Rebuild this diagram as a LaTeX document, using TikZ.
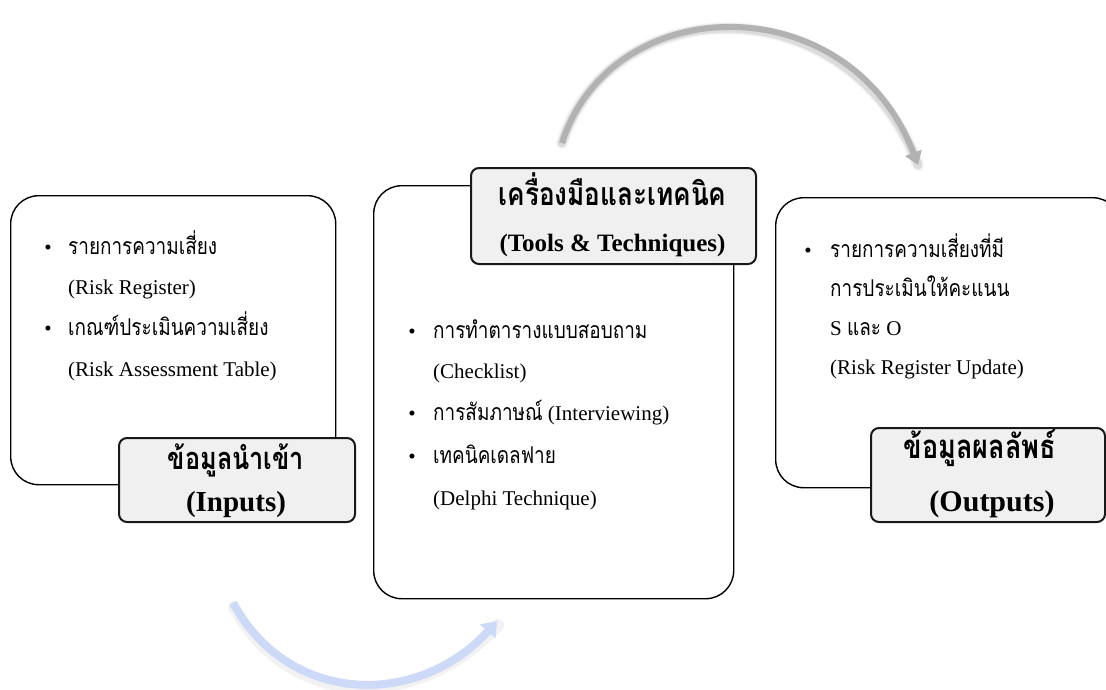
\documentclass[tikz,border=0pt]{standalone}
\usepackage{fontspec}
\setmainfont{Liberation Serif}
\newfontfamily\thai[Script=Thai,Scale=1.1,FakeStretch=0.82]{Loma}
\usetikzlibrary{arrows.meta}
\definecolor{tagfill}{RGB}{240,240,240}
\definecolor{arcgray}{RGB}{178,178,178}
\definecolor{arcblue}{RGB}{204,217,247}
\tikzset{
  panel/.style={draw=black, line width=1.4, rounded corners=28, fill=white, anchor=north west, inner sep=0pt},
  tag/.style={draw=black!90, line width=2, rounded corners=8, fill=tagfill, anchor=north west, inner sep=0pt},
  item/.style={anchor=base west, inner sep=0pt, font=\fontsize{21}{25}\selectfont},
  dot/.style={anchor=base, inner sep=0pt, font=\fontsize{21}{25}\selectfont},
  tagline/.style={anchor=base, inner sep=0pt, font=\bfseries\fontsize{#1}{#1}\selectfont},
}
\begin{document}
\begin{tikzpicture}[x=1pt,y=-1pt]
\useasboundingbox (0,0) rectangle (1106,689);

% ---- curved flow arrows ----
\coordinate (ga) at (562,143);
\coordinate (gb) at (918,165);
\foreach \w/\o in {13/0.08, 10.5/0.16, 8.5/0.3}
  \draw[line width=\w, draw=arcgray, opacity=\o, line cap=round]
    (ga) .. controls (612,-12) and (850,-15) .. (gb);
\draw[line width=6, draw=arcgray, -{Triangle[length=13,width=17]}]
    (ga) .. controls (612,-12) and (850,-15) .. (gb);

\coordinate (ba) at (233,603);
\coordinate (bb) at (497,621);
\draw[line width=12, draw=black, opacity=0.05, line cap=round]
    ([shift={(1,4)}]ba) .. controls (290,711) and (420,711) .. ([shift={(1,4)}]bb);
\draw[line width=8, draw=arcblue, -{Triangle[length=14,width=20]}]
    (ba) .. controls (290,707) and (420,707) .. (bb);

% ---- Inputs ----
\node[panel, minimum width=325, minimum height=289] (inbox) at (10,195) {};
\node[dot] (in1b) at (48,254) {•};
\node[item] (in1) at (68,254) {\thai รายการความเสี่ยง};
\node[item] (in2) at (68,294) {(Risk Register)};
\node[dot] (in3b) at (48,335) {•};
\node[item] (in3) at (68,335) {\thai เกณฑ์ประเมินความเสี่ยง};
\node[item] (in4) at (68,376) {(Risk Assessment Table)};
\node[tag, minimum width=236, minimum height=84] (intag) at (118,437) {};
\node[tagline=28] (intag1) at (236,469) {\thai ข้อมูลนำเข้า};
\node[tagline=29] (intag2) at (236,511) {(Inputs)};

% ---- Tools & Techniques ----
\node[panel, minimum width=360, minimum height=413] (toolbox) at (373,185) {};
\node[tag, minimum width=285, minimum height=96] (tooltag) at (470,167) {};
\node[tagline=29] (tooltag1) at (612.5,205) {\thai เครื่องมือและเทคนิค};
\node[tagline=25] (tooltag2) at (612.5,251) {(Tools \& Techniques)};
\node[dot] (t1b) at (412,338) {•};
\node[item] (t1) at (433,338) {\thai การทำตารางแบบสอบถาม};
\node[item] (t2) at (433,378) {(Checklist)};
\node[dot] (t3b) at (412,420) {•};
\node[item] (t3) at (433,420) {{\thai การสัมภาษณ์} (Interviewing)};
\node[dot] (t4b) at (412,463) {•};
\node[item] (t4) at (433,463) {\thai เทคนิคเดลฟาย};
\node[item] (t5) at (433,505) {(Delphi Technique)};

% ---- Outputs ----
\node[panel, minimum width=345, minimum height=290] (outbox) at (775,197) {};
\node[dot] (o1b) at (808,257) {•};
\node[item] (o1) at (830,257) {\thai รายการความเสี่ยงที่มี};
\node[item] (o2) at (830,296) {\thai การประเมินให้คะแนน};
\node[item] (o3) at (830,335) {S {\thai และ} O};
\node[item] (o4) at (830,374) {(Risk Register Update)};
\node[tag, minimum width=234, minimum height=94] (outtag) at (870,427) {};
\node[tagline=30] (outtag1) at (980,458) {\thai ข้อมูลผลลัพธ์};
\node[tagline=30] (outtag2) at (992,511) {(Outputs)};
\end{tikzpicture}
\end{document}
